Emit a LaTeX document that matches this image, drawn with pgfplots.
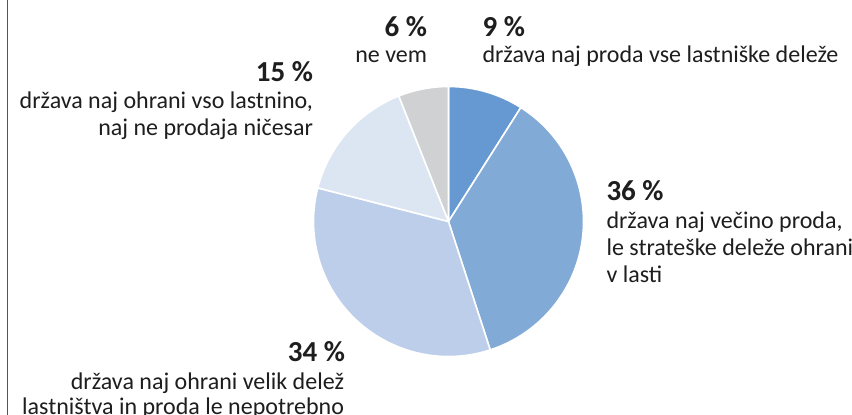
\documentclass[border=0pt]{standalone}
\usepackage{pgfplots}
\usepackage{pgfplotstable}
\pgfplotsset{compat=1.18}
\usepackage{fontspec}
\setmainfont{Carlito}
\definecolor{c0}{HTML}{6699D1}
\definecolor{c1}{HTML}{82AAD7}
\definecolor{c2}{HTML}{BCCEE9}
\definecolor{c3}{HTML}{DCE6F3}
\definecolor{c4}{HTML}{D0D1D3}
\definecolor{txt}{HTML}{1E1E1E}
\definecolor{frame}{HTML}{555555}
\pgfplotstableread{
pct
9
36
34
15
6
}\piedata
\newcommand\pcfont{\bfseries\fontsize{29bp}{31bp}\selectfont}
\newcommand\lbfont{\fontsize{24bp}{27bp}\selectfont}
\begin{document}
\begin{tikzpicture}
\useasboundingbox (0,0) rectangle (852bp,415bp);
\fill[white] (0,0) rectangle (852bp,415bp);
\draw[frame, line width=1bp] (7.5bp,-5bp) -- (7.5bp,420bp);
\begin{axis}[hide axis, x=135bp, y=135bp, xmin=-1, xmax=1, ymin=-1, ymax=1,
  anchor=center, at={(448.5bp,193.5bp)}, clip=false, disabledatascaling, scale only axis]
\gdef\cum{0}
\pgfplotsinvokeforeach{0,...,4}{%
  \pgfplotstablegetelem{#1}{pct}\of\piedata
  \pgfmathsetmacro\aS{90-3.6*\cum}
  \pgfmathsetmacro\cumnew{\cum+\pgfplotsretval}
  \pgfmathsetmacro\aE{90-3.6*\cumnew}
  \xdef\cum{\cumnew}
  \edef\tmp{\noexpand\fill[c#1, draw=white, line width=1.6bp, line join=round]
    (axis cs:0,0) -- (axis cs:{cos(\aS)},{sin(\aS)}) arc[start angle=\aS, end angle=\aE, radius=135bp] -- cycle;}
  \tmp
}
\end{axis}
\begin{scope}[every node/.style={inner sep=0pt, outer sep=0pt, text=txt}]
% 6 %
\node[anchor=base east] at (427bp,378.3bp) {\pcfont 6 \%};
\node[anchor=base east] at (427bp,352.7bp) {\lbfont ne vem};
% 9 %
\node[anchor=base west] at (482.5bp,378.3bp) {\pcfont 9 \%};
\node[anchor=base west] at (482.5bp,352.7bp) {\lbfont država naj proda vse lastniške deleže};
% 15 %
\node[anchor=base east] at (313bp,333.3bp) {\pcfont 15 \%};
\node[anchor=base east] at (313bp,306.5bp) {\lbfont država naj ohrani vso lastnino,};
\node[anchor=base east] at (313bp,279bp) {\lbfont naj ne prodaja ničesar};
% 36 %
\node[anchor=base west] at (606.5bp,214bp) {\pcfont 36 \%};
\node[anchor=base west] at (606.5bp,186.7bp) {\lbfont država naj večino proda,};
\node[anchor=base west] at (606.5bp,159bp) {\lbfont le strateške deleže ohrani};
\node[anchor=base west] at (606.5bp,132.7bp) {\lbfont v lasti};
% 34 %
\node[anchor=base east] at (345bp,53.3bp) {\pcfont 34 \%};
\node[anchor=base east] at (344bp,26bp) {\lbfont država naj ohrani velik delež};
\node[anchor=base east] at (344bp,1bp) {\lbfont lastništva in proda le nepotrebno};
\end{scope}
\end{tikzpicture}
\end{document}
